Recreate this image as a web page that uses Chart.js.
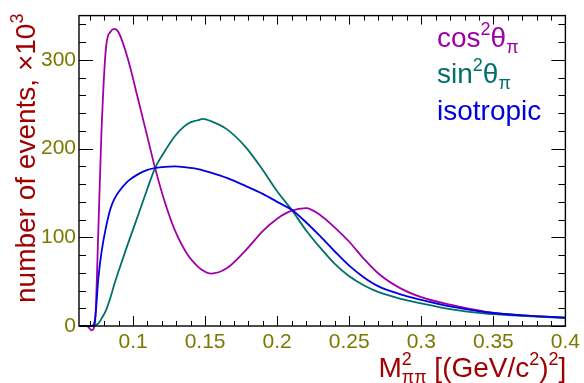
<!DOCTYPE html>
<html>
<head>
<meta charset="utf-8">
<script src="https://cdn.jsdelivr.net/npm/chart.js@4.4.0/dist/chart.umd.min.js"></script>
<style>
  html, body { margin: 0; padding: 0; background: #fff; }
</style>
</head>
<body>
<canvas id="chart" width="584" height="383"></canvas>
<script>
// M^2_pipi values, (GeV/c^2)^2
const massSq = [0.0625, 0.068, 0.0714, 0.0735, 0.076, 0.078, 0.0813, 0.0845, 0.087, 0.09,
  0.0963, 0.1033, 0.11, 0.115, 0.122, 0.129, 0.138, 0.145, 0.1485, 0.154,
  0.165, 0.178, 0.19, 0.2, 0.21, 0.22, 0.23, 0.24, 0.25, 0.26,
  0.27, 0.285, 0.3, 0.32, 0.345, 0.37, 0.4];
// number of events, x10^3
const cosSq = [0, 0, -5, 2, 112, 215, 315, 332, 335, 331,
  302, 257, 213, 180, 140, 108, 80, 67, 62.5, 59,
  65, 85, 107, 121, 130, 133, 125, 111, 95, 76,
  59.5, 43, 32.5, 24, 16, 12, 9.5];
const sinSq = [0, 0, 0, 0.5, 3, 8, 18, 33, 47, 62,
  92, 124, 155, 177, 197, 214, 228, 232, 233.5, 231,
  222, 202, 176, 152, 131, 108, 88, 70, 56, 46,
  38.5, 31, 25.5, 19, 14, 11.5, 9];
const isotropic = [0, 0, 0, 6, 55, 82, 112, 133, 143, 151,
  163, 171, 176, 178, 179.5, 180, 178.5, 177, 175.5, 173,
  167, 158, 149, 140, 131, 117, 101, 84, 68, 55,
  45, 36, 29.5, 22, 15.5, 12, 9.5];

const xTicks = [0.1, 0.15, 0.2, 0.25, 0.3, 0.35, 0.4];
const yTicks = [0, 100, 200, 300];

const FONT = '"Liberation Sans", Arial, Helvetica, sans-serif';
const OLIVE = '#7a7a00';
const DARKRED = '#a00000';
const C_COS = '#a000a8';
const C_SIN = '#00706a';
const C_ISO = '#0000e0';

// draws a run of text pieces with super/subscripts; returns width
function richText(ctx, parts, x, y, color, dry) {
  let prevStart = x, maxEnd = x;
  parts.forEach(p => {
    ctx.font = p.size + 'px ' + FONT;
    const start = p.stack ? prevStart : maxEnd;
    const w = ctx.measureText(p.t).width;
    if (!dry) {
      ctx.fillStyle = color;
      ctx.fillText(p.t, start, y + (p.dy || 0));
    }
    prevStart = start;
    maxEnd = Math.max(maxEnd, start + w);
  });
  return maxEnd - x;
}

const decor = {
  id: 'decor',
  afterDatasetsDraw(chart) {
    const ctx = chart.ctx;
    const a = chart.chartArea;
    const xs = chart.scales.x, ys = chart.scales.y;
    ctx.save();
    ctx.strokeStyle = '#000';
    ctx.lineWidth = 1.4;
    ctx.strokeRect(a.left, a.top, a.right - a.left, a.bottom - a.top);
    ctx.lineWidth = 1;
    ctx.beginPath();
    // x ticks, every 0.01, major every 0.05
    for (let k = 7; k <= 40; k++) {
      const px = Math.round(xs.getPixelForValue(k / 100)) + 0.5;
      const len = k % 5 === 0 ? 10 : 5;
      const lenTop = k % 5 === 0 ? 9 : 5;
      ctx.moveTo(px, a.bottom); ctx.lineTo(px, a.bottom - len);
      ctx.moveTo(px, a.top); ctx.lineTo(px, a.top + lenTop);
    }
    // y ticks, every 20, major every 100
    for (let v = 0; v <= 340; v += 20) {
      const py = Math.round(ys.getPixelForValue(v)) + 0.5;
      const len = v % 100 === 0 ? 14 : 7;
      ctx.moveTo(a.left, py); ctx.lineTo(a.left + len, py);
      ctx.moveTo(a.right, py); ctx.lineTo(a.right - len, py);
    }
    ctx.stroke();

    ctx.textBaseline = 'alphabetic';
    ctx.textAlign = 'left';
    // x title
    const xt = [
      { t: 'M', size: 28 },
      { t: '2', size: 18, dy: -12 },
      { t: 'ππ', size: 18, dy: 6, stack: true },
      { t: ' [(GeV/c', size: 28 },
      { t: '2', size: 18, dy: -12 },
      { t: ')', size: 28 },
      { t: '2', size: 18, dy: -12 },
      { t: ']', size: 28 }
    ];
    const wx = richText(ctx, xt, 0, 0, DARKRED, true);
    richText(ctx, xt, a.right + 1 - wx, 377, DARKRED);
    // y title
    ctx.save();
    ctx.translate(35, 303);
    ctx.rotate(-Math.PI / 2);
    richText(ctx, [
      { t: 'number of events, ×10', size: 28 },
      { t: '3', size: 18, dy: -12 }
    ], 0, 0, DARKRED);
    ctx.restore();
    // legend
    const leg = [
      { name: 'cos', color: C_COS, y: 47 },
      { name: 'sin', color: C_SIN, y: 83 }
    ];
    leg.forEach(l => {
      richText(ctx, [
        { t: l.name, size: 28 },
        { t: '2', size: 18, dy: -12 },
        { t: 'θ', size: 28 },
        { t: 'π', size: 18, dy: 6 }
      ], 437, l.y, l.color);
    });
    richText(ctx, [{ t: 'isotropic', size: 28 }], 437, 120, C_ISO);
    ctx.restore();
  }
};

function series(ys) {
  return massSq.map((x, i) => ({ x: x, y: ys[i] }));
}

new Chart(document.getElementById('chart').getContext('2d'), {
  type: 'line',
  data: {
    datasets: [
      { label: 'cos2', data: series(cosSq), borderColor: C_COS, order: 3 },
      { label: 'sin2', data: series(sinSq), borderColor: C_SIN, order: 2 },
      { label: 'isotropic', data: series(isotropic), borderColor: C_ISO, order: 1 }
    ]
  },
  options: {
    responsive: false,
    animation: false,
    layout: { padding: { left: 0, right: 17, top: 8, bottom: 0 } },
    elements: {
      point: { radius: 0 },
      line: { borderWidth: 1.8, cubicInterpolationMode: 'monotone', fill: false }
    },
    datasets: { line: { clip: 10 } },
    plugins: { legend: { display: false }, tooltip: { enabled: false } },
    scales: {
      x: {
        type: 'linear',
        min: 0.0625,
        max: 0.4,
        afterBuildTicks: s => { s.ticks = xTicks.map(v => ({ value: v })); },
        afterFit: s => { s.height = 57; },
        grid: { display: false, drawTicks: false },
        border: { display: false },
        ticks: {
          color: OLIVE, padding: 4, maxRotation: 0, autoSkip: false,
          font: { size: 21, family: FONT },
          callback: v => String(v)
        }
      },
      y: {
        min: 0,
        max: 350,
        afterBuildTicks: s => { s.ticks = yTicks.map(v => ({ value: v })); },
        afterFit: s => { s.width = 79; },
        grid: { display: false, drawTicks: false },
        border: { display: false },
        ticks: {
          color: OLIVE, padding: 3,
          font: { size: 21, family: FONT }
        }
      }
    }
  },
  plugins: [decor]
});
</script>
</body>
</html>
